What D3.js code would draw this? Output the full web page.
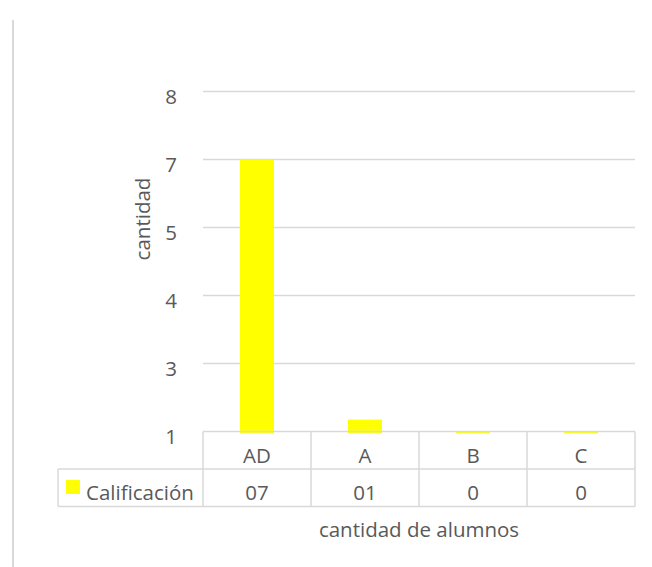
<!DOCTYPE html>
<html>
<head>
<meta charset="utf-8">
<script src="https://cdn.jsdelivr.net/npm/d3@7"></script>
<style>
  html, body { margin: 0; padding: 0; background: #ffffff; }
  svg { display: block; }
  text { font-family: "Open Sans", "DejaVu Sans", sans-serif; fill: #595959; }
</style>
</head>
<body>
<svg id="chart" width="652" height="567"></svg>
<script>
// ---- data ----
const categories = ["AD", "A", "B", "C"];
const seriesName = "Calificación";
const barValues = [7, 1.35, 1, 1];          // bar tops in axis units (as drawn)
const tableValues = ["07", "01", "0", "0"]; // data-table row
const yTicks = [1, 3, 4, 5, 7, 8];
const yTickLabels = ["1", "3", "4", "5", "7", "8"];
const yTitle = "cantidad";
const xTitle = "cantidad de alumnos";

// ---- layout ----
const svg = d3.select("#chart");
const plot = { left: 203, right: 635, top: 91.5, bottom: 431.5 };
const rowH = 37.5;
const legendLeft = 58;
const grey = "#d9d9d9";
const yellow = "#ffff00";
const fs = "20.5px";

// frame line on the left
svg.append("line")
  .attr("x1", 13).attr("x2", 13)
  .attr("y1", 20).attr("y2", 567)
  .attr("stroke", grey).attr("stroke-width", 2);

// scales
const step = (plot.bottom - plot.top) / (yTicks.length - 1);
const y = d3.scaleLinear()
  .domain(yTicks)
  .range(yTicks.map((d, i) => plot.bottom - i * step));
const x = d3.scaleBand()
  .domain(categories)
  .range([plot.left, plot.right]);

// gridlines
svg.append("g").selectAll("line")
  .data(yTicks.slice(1))
  .join("line")
  .attr("x1", plot.left).attr("x2", plot.right)
  .attr("y1", d => y(d)).attr("y2", d => y(d))
  .attr("stroke", grey).attr("stroke-width", 1.5);

// y tick labels
svg.append("g").selectAll("text")
  .data(yTicks)
  .join("text")
  .attr("x", 177)
  .attr("y", d => y(d) + 12)
  .attr("text-anchor", "end")
  .style("font-size", fs)
  .text((d, i) => yTickLabels[i]);

// y title
svg.append("text")
  .attr("transform", `translate(150, 219) rotate(-90)`)
  .attr("text-anchor", "middle")
  .style("font-size", fs)
  .text(yTitle);

// bars
const barW = 34;
svg.append("g").selectAll("rect")
  .data(categories.map((c, i) => ({ c, v: barValues[i] })))
  .join("rect")
  .attr("x", d => x(d.c) + x.bandwidth() / 2 - barW / 2)
  .attr("width", barW)
  .attr("y", d => Math.min(y(d.v), plot.bottom + 0.5))
  .attr("height", d => Math.max(plot.bottom - y(d.v), 0) + 2)
  .attr("fill", yellow);

// data table
const tbl = svg.append("g");
const tTop = plot.bottom, tMid = plot.bottom + rowH, tBot = plot.bottom + 2 * rowH;
tbl.append("line").attr("x1", plot.left).attr("x2", plot.right)
  .attr("y1", tTop).attr("y2", tTop).attr("stroke", grey).attr("stroke-width", 1.5);
tbl.append("line").attr("x1", legendLeft).attr("x2", plot.right)
  .attr("y1", tMid).attr("y2", tMid).attr("stroke", grey).attr("stroke-width", 1.5);
tbl.append("line").attr("x1", legendLeft).attr("x2", plot.right)
  .attr("y1", tBot).attr("y2", tBot).attr("stroke", grey).attr("stroke-width", 1.5);
tbl.append("line").attr("x1", legendLeft).attr("x2", legendLeft)
  .attr("y1", tMid).attr("y2", tBot).attr("stroke", grey).attr("stroke-width", 1.5);
const vx = categories.map(c => x(c)).concat([plot.right]);
tbl.selectAll("line.v").data(vx).join("line").attr("class", "v")
  .attr("x1", d => d).attr("x2", d => d)
  .attr("y1", tTop).attr("y2", tBot)
  .attr("stroke", grey).attr("stroke-width", 1.5);
tbl.selectAll("text.cat").data(categories).join("text").attr("class", "cat")
  .attr("x", d => x(d) + x.bandwidth() / 2)
  .attr("y", tTop + 31)
  .attr("text-anchor", "middle")
  .style("font-size", fs)
  .text(d => d);
tbl.selectAll("text.val").data(categories).join("text").attr("class", "val")
  .attr("x", d => x(d) + x.bandwidth() / 2)
  .attr("y", tMid + 31)
  .attr("text-anchor", "middle")
  .style("font-size", fs)
  .text((d, i) => tableValues[i]);
tbl.append("rect")
  .attr("x", 66).attr("y", 480).attr("width", 14).attr("height", 14)
  .attr("fill", yellow);
tbl.append("text")
  .attr("x", 86).attr("y", tMid + 31)
  .style("font-size", fs)
  .text(seriesName);

// x title
svg.append("text")
  .attr("x", x.range()[0] + (x.range()[1] - x.range()[0]) / 2)
  .attr("y", 537)
  .attr("text-anchor", "middle")
  .style("font-size", fs)
  .text(xTitle);
</script>
</body>
</html>
